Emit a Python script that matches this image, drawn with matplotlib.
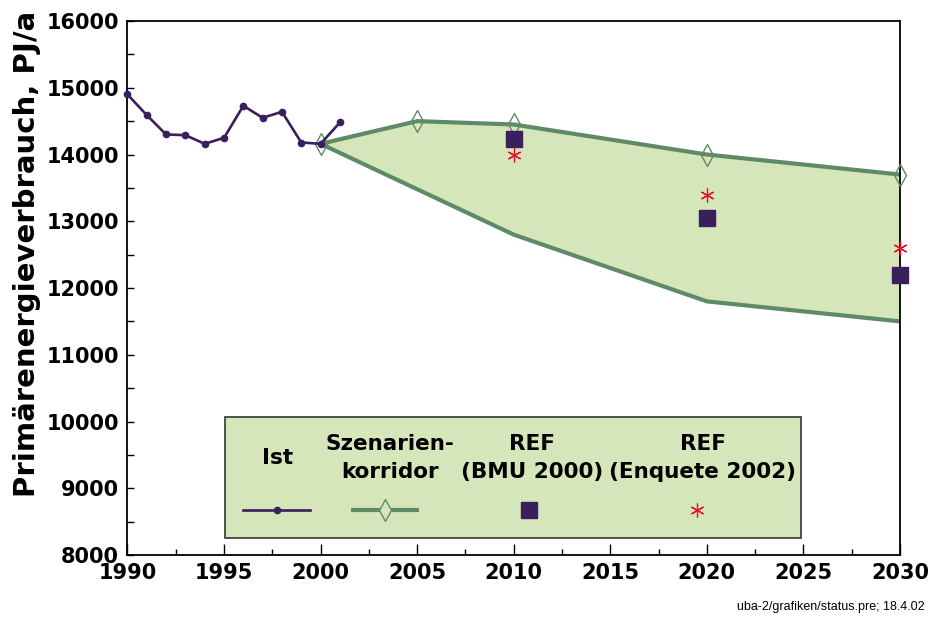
import numpy as np
import matplotlib
matplotlib.use("Agg")
import matplotlib.pyplot as plt
from matplotlib.patches import Rectangle
from matplotlib.lines import Line2D

# data
ist_years = [1990, 1991, 1992, 1993, 1994, 1995, 1996, 1997, 1998, 1999, 2000, 2001]
ist_values = [14900, 14590, 14300, 14290, 14160, 14250, 14730, 14550, 14640, 14180, 14160, 14480]

upper_years = [2000, 2005, 2010, 2020, 2030]
upper_values = [14160, 14500, 14450, 14000, 13700]
lower_years = [2000, 2010, 2020, 2030]
lower_values = [14160, 12800, 11800, 11500]

ref_years = [2010, 2020, 2030]
bmu_values = [14230, 13050, 12200]
enquete_values = [14000, 13400, 12600]

c_ist = '#3a1f5d'
c_corr = '#5f8a68'
c_fill = '#d6e6bb'
c_star = '#e8102a'
font = 'DejaVu Sans'

plt.rcParams['font.family'] = font
fig = plt.figure(figsize=(9.31, 6.18), dpi=100)
ax = fig.add_axes([0.1369, 0.1019, 0.8298, 0.8641])

# corridor
poly_x = upper_years + lower_years[::-1]
poly_y = upper_values + lower_values[::-1]
ax.fill(poly_x, poly_y, color=c_fill, lw=0, zorder=1)
ax.plot(upper_years, upper_values, color=c_corr, lw=3, zorder=2, solid_capstyle='butt')
ax.plot(lower_years, lower_values, color=c_corr, lw=3, zorder=2, solid_capstyle='butt')
ax.plot(upper_years, upper_values, ls='none', marker='d', ms=11, mfc='none',
        mec=c_corr, mew=1, zorder=3, clip_on=False)

# Ist
ax.plot(ist_years, ist_values, color=c_ist, lw=1.9, marker='o', ms=4.5, zorder=4, clip_on=False)

# references
ax.plot(ref_years, bmu_values, ls='none', marker='s', ms=11.5, color=c_ist, zorder=5, clip_on=False)
ax.plot(ref_years, enquete_values, ls='none', marker=(6, 2, 0), ms=10, mew=0.9,
        color=c_star, zorder=5, clip_on=False)

ax.set_xlim(1990, 2030)
ax.set_ylim(8000, 16000)
ax.set_xticks(np.arange(1990, 2031, 5))
ax.set_xticks(np.arange(1992.5, 2030, 5), minor=True)
ax.set_yticks(np.arange(8000, 16001, 1000))
ax.set_yticks(np.arange(8500, 16000, 1000), minor=True)
ax.tick_params(axis='both', which='both', direction='in', width=1, color='black')
ax.tick_params(axis='x', which='major', length=8, pad=6)
ax.tick_params(axis='x', which='minor', length=4)
ax.tick_params(axis='y', which='both', length=5, pad=6)
for lab in ax.get_xticklabels() + ax.get_yticklabels():
    lab.set_fontweight('bold')
    lab.set_fontsize(15)
for s in ax.spines.values():
    s.set_linewidth(1.3)

fig.text(0.029, 0.589, 'Primärenergieverbrauch, PJ/a', rotation=90, ha='center', va='center',
         fontsize=21, fontweight='bold')

# legend box drawn by hand
ax.add_patch(Rectangle((0.1266, 0.0324), 0.872 - 0.1266, 0.258 - 0.0324, transform=ax.transAxes,
                       facecolor=c_fill, edgecolor='#444444', lw=1.3, zorder=6))
ty = 0.181
kw = dict(transform=ax.transAxes, ha='center', va='center', fontsize=15.5, fontweight='bold',
          linespacing=1.5, zorder=7)
ax.text(0.194, ty, 'Ist', **kw)
ax.text(0.3395, ty, 'Szenarien-\nkorridor', **kw)
ax.text(0.524, ty, 'REF\n(BMU 2000)', **kw)
ax.text(0.745, ty, 'REF\n(Enquete 2002)', **kw)

my = 0.0843
ax.add_line(Line2D([0.150, 0.236], [my, my], transform=ax.transAxes, color=c_ist, lw=1.9, zorder=7))
ax.add_line(Line2D([0.193], [my], transform=ax.transAxes, color=c_ist, marker='o', ms=4.5, zorder=8))
ax.add_line(Line2D([0.290, 0.3775], [my, my], transform=ax.transAxes, color=c_corr, lw=3,
                   solid_capstyle='butt', zorder=7))
ax.add_line(Line2D([0.3337], [my], transform=ax.transAxes, marker='d', ms=11, mfc=c_fill,
                   mec=c_corr, mew=1, zorder=8))
ax.add_line(Line2D([0.520], [my], transform=ax.transAxes, marker='s', ms=11.5, color=c_ist, zorder=8))
ax.add_line(Line2D([0.737], [my], transform=ax.transAxes, marker=(6, 2, 0), ms=10, mew=0.9,
                   color=c_star, zorder=8))

fig.text(0.9928, 0.0085, 'uba-2/grafiken/status.pre; 18.4.02', ha='right', va='bottom',
         fontsize=9, family=['Liberation Sans Narrow', 'Liberation Sans'])

fig.savefig('out.png', dpi=100)
